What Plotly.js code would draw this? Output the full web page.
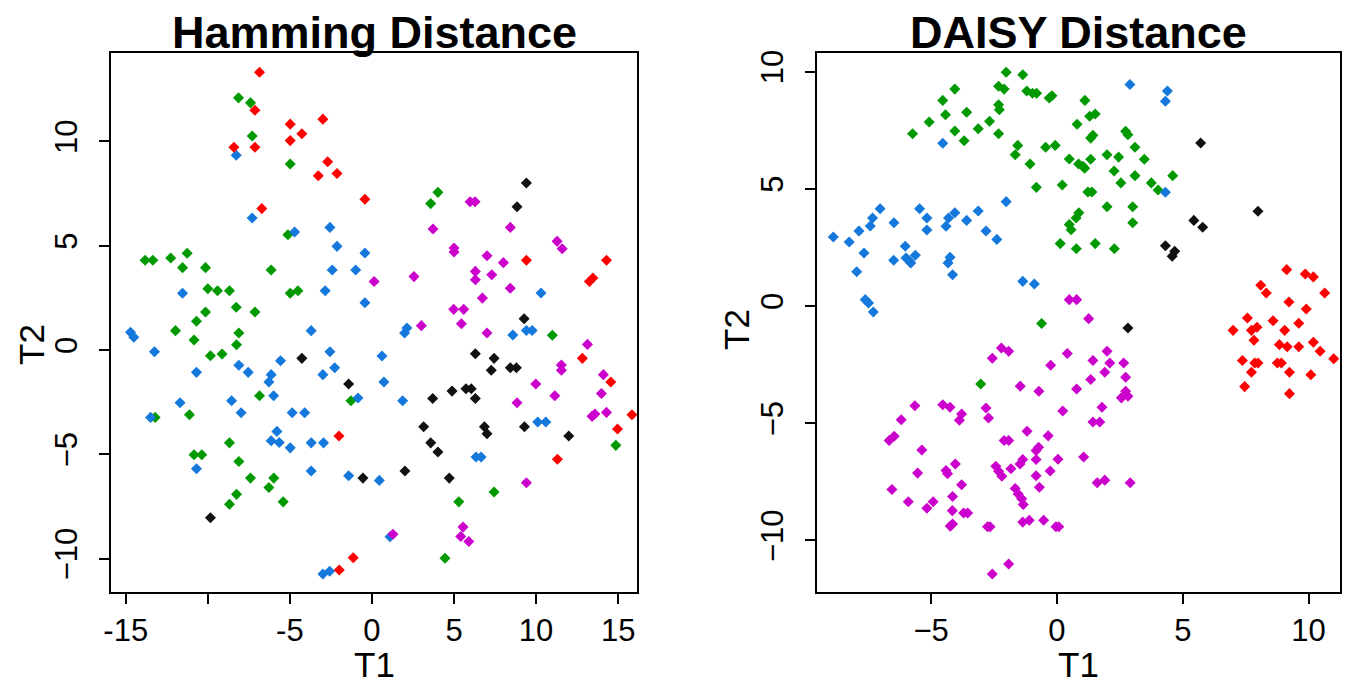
<!DOCTYPE html>
<html>
<head>
<meta charset="utf-8">
<script src="https://cdn.plot.ly/plotly-3.0.1.min.js"></script>
<style>html,body{margin:0;padding:0;background:#fff;}#chart{width:1360px;height:685px;}</style>
</head>
<body>
<div id="chart"></div>
<script>
// ---------- Hamming Distance panel ----------
const hamRedX = [-6.85,-7.13,-4.98,-2.99,-4.27,-4.98,-8.41,-7.13,-2.70,-3.27,-2.13,-0.43,-6.71,9.41,14.29,13.25,13.46,12.82,14.55,-2.01,15.84,14.96,11.30,-1.14,-1.99];
const hamRedY = [13.32,11.50,10.83,11.07,10.37,10.04,9.72,9.72,9.03,8.36,8.46,7.23,6.78,4.30,4.30,3.29,3.45,-0.40,-1.53,-4.12,-3.10,-3.79,-5.24,-9.96,-10.55];

const hamGreenX = [-8.13,-7.40,-7.30,-4.98,4.02,3.58,-5.12,-13.82,-13.35,-12.26,-11.26,-11.54,-10.14,-6.14,-10.0,-9.41,-8.68,-4.98,-4.51,-8.27,-10.14,-7.13,-10.69,-11.97,-8.11,-10.84,-8.25,-9.84,-9.13,10.99,-1.28,-6.85,-11.12,-13.21,-8.68,-10.84,-10.37,-8.11,-7.40,-5.98,-6.28,-8.25,-8.68,-5.41,14.86,7.44,5.29,4.45];
const hamGreenY = [12.09,11.85,10.26,8.92,7.56,7.02,5.53,4.30,4.30,4.41,4.64,3.95,3.95,3.84,2.94,2.84,2.84,2.72,2.84,2.05,1.82,1.82,1.38,0.93,0.82,0.48,0.25,-0.27,-0.19,0.71,-2.43,-2.19,-3.10,-3.23,-4.45,-5.02,-5.02,-5.34,-6.14,-6.14,-6.59,-6.92,-7.39,-7.28,-4.57,-6.81,-7.28,-9.98];

const hamBlueX = [-8.27,-7.30,-2.56,-4.71,-2.13,-0.43,-2.42,-0.99,-11.54,-2.85,-0.43,-14.71,-14.51,-3.70,-13.25,-8.11,-7.54,-5.57,-2.56,-2.27,-2.99,-10.69,-6.14,-6.28,-0.85,-5.99,-11.69,-8.55,-7.97,-4.86,-4.10,-13.49,-5.79,-6.14,-5.65,-4.98,-3.70,-2.95,-10.69,-3.70,-1.42,0.45,-2.99,-2.58,10.30,2.13,1.99,8.58,9.41,9.76,0.61,0.73,1.87,10.10,10.59,6.34,6.65,1.10];
const hamBlueY = [9.34,6.33,5.88,5.66,4.97,4.65,3.84,3.84,2.72,2.84,2.27,0.85,0.61,0.93,-0.08,-0.73,-1.07,-0.51,-0.08,-0.85,-1.18,-1.07,-1.18,-1.53,-2.30,-2.19,-2.53,-2.43,-3.01,-3.01,-3.01,-3.23,-3.90,-4.35,-4.43,-4.69,-4.45,-4.45,-5.69,-5.80,-6.03,-6.25,-10.74,-10.61,2.73,1.06,0.82,0.72,0.94,0.94,-0.29,-1.53,-2.43,-3.45,-3.45,-5.13,-5.13,-8.95];

const hamBlackX = [9.41,8.84,9.27,-4.27,-1.42,6.30,7.44,7.27,8.43,8.80,4.88,5.73,6.05,6.30,3.70,3.15,6.85,7.01,9.29,11.99,3.58,4.02,2.01,4.71,-0.55,-9.84];
const hamBlackY = [8.01,6.87,1.50,-0.40,-1.63,-0.18,-0.40,-0.97,-0.85,-0.85,-1.97,-1.86,-1.86,-2.32,-2.32,-3.68,-3.68,-4.01,-3.68,-4.12,-4.45,-4.89,-5.80,-6.14,-6.14,-8.04];

const hamMagentaX = [5.98,6.28,3.72,8.43,11.28,11.59,5.0,5.0,7.01,8.01,2.56,0.13,6.30,6.30,7.30,8.43,6.73,4.98,5.59,5.45,3.01,7.01,13.13,11.54,11.54,14.10,9.98,13.98,11.14,8.84,13.41,13.58,14.29,9.41,5.55,5.41,5.90,1.28];
const hamMagentaY = [7.11,7.11,5.80,5.88,5.21,4.86,4.89,4.70,4.52,4.19,3.52,3.29,3.77,3.37,3.61,2.96,2.49,1.95,1.95,1.26,1.17,0.82,0.27,-0.72,-0.97,-1.18,-1.63,-2.08,-2.19,-2.53,-3.18,-3.07,-2.99,-6.36,-8.49,-8.94,-9.18,-8.83];

// ---------- DAISY Distance panel ----------
const daiGreenX = [-2.02,-1.36,-4.06,-2.32,-2.10,-1.20,-0.97,-0.81,-0.31,-0.20,-4.54,-2.32,-2.29,-4.43,-3.59,-5.08,-2.68,-3.13,-4.06,-2.32,-5.74,-3.69,-1.56,-1.66,-0.45,-0.07,-1.07,0.49,0.86,0.80,1.11,-0.82,0.21,0.87,0.76,0.49,0.56,1.30,1.52,1.43,1.34,2.73,2.82,3.10,1.99,2.45,3.47,1.34,1.03,1.10,2.27,3.10,4.60,2.54,3.75,4.02,1.23,1.39,1.99,3.01,3.01,0.13,0.77,1.52,2.28,-0.61,-3.03];
const daiGreenY = [9.97,9.86,9.25,9.37,9.25,9.17,9.07,9.07,8.87,8.97,8.77,8.58,8.37,8.16,8.26,7.85,7.88,7.56,7.46,7.35,7.35,7.05,6.85,6.45,6.77,6.85,6.06,6.27,6.06,7.75,8.77,5.06,5.16,3.98,3.75,3.47,3.25,8.09,8.19,7.28,7.16,7.45,7.30,6.77,6.45,6.35,6.26,6.26,5.96,5.88,5.76,5.56,5.56,5.25,5.25,4.95,4.86,4.86,4.23,4.23,3.55,2.66,2.44,2.66,2.44,-0.75,-3.33];

const daiBlueX = [-4.54,-2.02,-7.03,-7.33,-7.42,-6.48,-5.46,-5.17,-4.06,-4.31,-4.41,-3.59,-3.13,-7.87,-5.17,-2.82,2.90,4.39,4.31,4.31,-8.89,-8.26,-7.67,-7.96,-6.49,-6.03,-6.00,-5.81,-5.63,-5.87,-4.25,-4.33,-4.15,-2.39,-7.62,-7.49,-7.30,-1.36,-0.90];
const daiBlueY = [6.94,4.45,4.15,3.75,3.41,3.55,4.15,3.75,3.98,3.75,3.40,3.65,4.05,3.20,3.24,3.20,9.45,9.17,8.73,4.85,2.94,2.73,2.26,1.46,1.95,2.55,2.05,1.83,2.16,1.93,2.08,1.83,1.33,2.84,0.27,0.13,-0.26,1.05,0.94];

const daiBlackX = [5.71,7.99,5.44,5.79,4.31,4.68,4.58,2.82];
const daiBlackY = [6.95,4.04,3.65,3.36,2.57,2.33,2.12,-0.94];

const daiRedX = [9.13,9.87,10.19,8.10,8.32,10.64,9.22,9.91,7.57,8.59,9.61,7.00,7.73,7.95,9.05,7.83,10.19,8.84,9.15,9.61,10.46,11.00,7.37,7.86,7.99,8.76,8.92,7.73,9.24,10.09,7.46,9.24];
const daiRedY = [1.55,1.36,1.24,0.88,0.55,0.55,0.17,-0.13,-0.51,-0.63,-0.74,-1.04,-1.04,-0.91,-1.04,-1.46,-1.55,-1.65,-1.74,-1.74,-1.93,-2.25,-2.33,-2.43,-2.43,-2.43,-2.43,-2.83,-2.83,-2.93,-3.44,-3.74];

const daiMagentaX = [0.49,0.78,-2.21,-1.92,-2.57,0.41,-0.25,-1.46,-0.72,0.78,-5.65,-4.54,-4.25,-2.82,-2.72,0.23,1.26,1.99,1.43,2.10,2.65,1.90,2.73,1.34,2.73,2.56,2.82,1.79,-3.79,-3.88,-6.19,-6.47,-6.67,-5.37,-1.19,-0.35,-2.10,-1.92,-0.73,-0.83,-0.83,-1.36,-1.47,0.04,1.06,-2.43,-2.32,-2.19,-1.83,-4.04,-4.41,-4.35,-5.54,-0.27,-0.83,-3.79,-6.56,-0.70,-1.66,-1.54,-1.40,-1.34,-4.15,-5.91,-4.92,-5.17,-4.16,-3.71,-3.55,-1.36,-1.10,-0.53,-4.24,-4.15,-2.76,-2.66,-0.04,0.07,-1.92,-2.57,1.43,1.70,1.60,1.90,2.91];
const daiMagentaY = [0.27,0.27,-1.79,-1.93,-2.23,-2.03,-2.53,-3.42,-3.64,-3.54,-4.26,-4.21,-4.32,-4.35,-4.78,-4.48,-0.54,-1.93,-2.33,-2.43,-2.43,-2.83,-3.04,-3.14,-3.64,-3.92,-3.85,-4.32,-4.61,-4.87,-4.85,-5.56,-5.74,-6.14,-5.34,-5.54,-5.74,-5.74,-6.03,-6.17,-6.55,-6.55,-6.74,-6.54,-6.44,-6.84,-7.05,-7.26,-6.94,-6.74,-7.02,-7.16,-7.13,-7.04,-7.24,-7.63,-7.83,-7.73,-7.79,-8.02,-8.22,-8.47,-8.13,-8.35,-8.35,-8.63,-8.73,-8.83,-8.83,-9.22,-9.14,-9.14,-9.39,-9.30,-9.42,-9.42,-9.42,-9.42,-11.01,-11.43,-4.95,-4.95,-7.54,-7.43,-7.54];

// ---------- axis ticks and labels ----------
const hamXTicks = [-15,-10,-5,0,5,10,15];
const hamXTickText = ['-15','','-5','0','5','10','15'];
const daiXTicks = [-5,0,5,10];
const yTicks = [-10,-5,0,5,10];
const panelTitles = ['Hamming Distance', 'DAISY Distance'];
const xTitle = 'T1';
const yTitle = 'T2';

const colors = {green:'#009a00', blue:'#1478dc', red:'#ff0000', black:'#111111', magenta:'#cc00cc'};

function tr(x, y, color, xa, ya) {
  return {type:'scatter', mode:'markers', x:x, y:y, xaxis:xa, yaxis:ya,
    marker:{symbol:'diamond', size:8.5, color:color, line:{width:0}}, hoverinfo:'x+y', showlegend:false};
}

const data = [
  tr(hamGreenX, hamGreenY, colors.green, 'x', 'y'),
  tr(hamBlueX, hamBlueY, colors.blue, 'x', 'y'),
  tr(hamBlackX, hamBlackY, colors.black, 'x', 'y'),
  tr(hamMagentaX, hamMagentaY, colors.magenta, 'x', 'y'),
  tr(hamRedX, hamRedY, colors.red, 'x', 'y'),
  tr(daiGreenX, daiGreenY, colors.green, 'x2', 'y2'),
  tr(daiBlueX, daiBlueY, colors.blue, 'x2', 'y2'),
  tr(daiBlackX, daiBlackY, colors.black, 'x2', 'y2'),
  tr(daiMagentaX, daiMagentaY, colors.magenta, 'x2', 'y2'),
  tr(daiRedX, daiRedY, colors.red, 'x2', 'y2')
];

const FONT = 'Liberation Sans, Arial, sans-serif';
const tickFont = {family:FONT, size:31, color:'#000'};
const axTitleFont = {family:FONT, size:35, color:'#000'};
const common = {showline:true, mirror:true, linecolor:'#000', linewidth:2, ticks:'outside', ticklen:10,
  tickwidth:2, tickcolor:'#000', showgrid:false, zeroline:false, tickfont:tickFont, automargin:false, fixedrange:true};

const xDom1 = [0.0816,0.4684], xDom2 = [0.6007,0.9853];
const yDom = [0.1358, 0.9226];
function ann(text, x, y, font, extra) {
  return Object.assign({text:text, xref:'paper', yref:'paper', x:x, y:y, xanchor:'center', yanchor:'middle',
    showarrow:false, font:font}, extra || {});
}
const titleFont = {family:FONT, size:45, weight:'bold', color:'#000'};
const layout = {
  width:1360, height:685, margin:{l:0, r:0, t:0, b:0},
  paper_bgcolor:'#fff', plot_bgcolor:'#fff', showlegend:false,
  xaxis: Object.assign({}, common, {domain:xDom1, range:[-15.9,16.15], anchor:'y',
    tickmode:'array', tickvals:hamXTicks, ticktext:hamXTickText, ticklabelstandoff:0}),
  yaxis: Object.assign({}, common, {domain:yDom, range:[-11.6,14.24], anchor:'x',
    tickmode:'array', tickvals:yTicks, tickangle:-90, ticklabelstandoff:10}),
  xaxis2: Object.assign({}, common, {domain:xDom2, range:[-9.54,11.25], anchor:'y2',
    tickmode:'array', tickvals:daiXTicks, ticklabelstandoff:0}),
  yaxis2: Object.assign({}, common, {domain:yDom, range:[-12.2,10.79], anchor:'x2',
    tickmode:'array', tickvals:yTicks, tickangle:-90, ticklabelstandoff:10}),
  annotations:[
    ann(panelTitles[0], (xDom1[0]+xDom1[1])/2, 1-33/685, titleFont),
    ann(panelTitles[1], (xDom2[0]+xDom2[1])/2, 1-33/685, titleFont),
    ann(xTitle, (xDom1[0]+xDom1[1])/2, 1-664/685, axTitleFont),
    ann(xTitle, (xDom2[0]+xDom2[1])/2, 1-664/685, axTitleFont),
    ann(yTitle, 31/1360, 1-345/685, axTitleFont, {textangle:-90}),
    ann(yTitle, 736/1360, 1-330/685, axTitleFont, {textangle:-90})
  ]
};

Plotly.newPlot('chart', data, layout, {staticPlot:true, displayModeBar:false});
</script>
</body>
</html>
